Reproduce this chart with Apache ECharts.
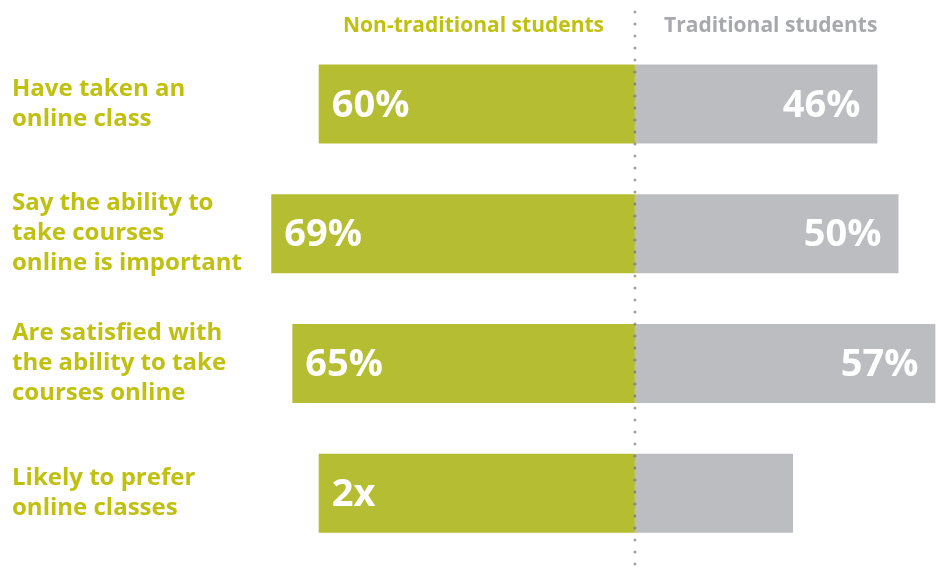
<!DOCTYPE html>
<html>
<head>
<meta charset="utf-8">
<script src="https://cdn.jsdelivr.net/npm/echarts@6/dist/echarts.min.js"></script>
<style>
html,body{margin:0;padding:0;background:#fff;}
#main{width:938px;height:574px;}
</style>
</head>
<body>
<div id="main"></div>
<script>
var categories = [
  'Have taken an\nonline class',
  'Say the ability to\ntake courses\nonline is important',
  'Are satisfied with\nthe ability to take\ncourses online',
  'Likely to prefer\nonline classes'
];
var seriesNames = ['Non-traditional students', 'Traditional students'];
var nonTraditional = [60, 69, 65, 60];
var traditional = [46, 50, 57, 30];
var nonTraditionalLabels = ['60%', '69%', '65%', '2x'];
var traditionalLabels = ['46%', '50%', '57%', ''];

var GREEN = '#b5be32';
var GREY = '#bcbdc0';
var TEXT_GREEN = '#c0c010';
var TEXT_GREY = '#a8a9ad';
var FONT = '"Open Sans", Lato, sans-serif';

var chart = echarts.init(document.getElementById('main'), null, {renderer: 'canvas'});

var option = {
  animation: false,
  backgroundColor: '#ffffff',
  title: [
    {
      text: seriesNames[0],
      right: 329,
      top: 11,
      textStyle: {color: TEXT_GREEN, fontFamily: FONT, fontWeight: 'bold', fontSize: 21}
    },
    {
      text: seriesNames[1],
      left: 659,
      top: 11,
      textStyle: {color: TEXT_GREY, fontFamily: FONT, fontWeight: 'bold', fontSize: 21}
    }
  ],
  grid: {left: 266, right: 0, top: 39, bottom: 16, containLabel: false},
  xAxis: {
    type: 'value',
    min: -70,
    max: 57.5,
    show: false
  },
  yAxis: {
    type: 'category',
    inverse: true,
    data: categories,
    axisLine: {show: false},
    axisTick: {show: false},
    splitLine: {show: false},
    axisLabel: {
      align: 'left',
      margin: 254,
      color: TEXT_GREEN,
      fontFamily: FONT,
      fontWeight: 'bold',
      fontSize: 24,
      lineHeight: 30
    }
  },
  series: [
    {
      name: seriesNames[0],
      type: 'bar',
      barWidth: 79,
      barGap: '-100%',
      itemStyle: {color: GREEN},
      data: nonTraditional.map(function (v) { return -v; }),
      label: {
        show: true,
        position: 'insideLeft',
        distance: 13,
        offset: [0, 2],
        color: '#ffffff',
        fontFamily: FONT,
        fontWeight: 'bold',
        fontSize: 38,
        formatter: function (p) { return nonTraditionalLabels[p.dataIndex]; }
      }
    },
    {
      name: seriesNames[1],
      type: 'bar',
      barWidth: 79,
      barGap: '-100%',
      itemStyle: {color: GREY},
      data: traditional,
      label: {
        show: true,
        position: 'insideRight',
        distance: 17,
        offset: [0, 2],
        color: '#ffffff',
        fontFamily: FONT,
        fontWeight: 'bold',
        fontSize: 38,
        formatter: function (p) { return traditionalLabels[p.dataIndex]; }
      }
    }
  ]
};
chart.setOption(option);

var cx = chart.convertToPixel({xAxisIndex: 0}, 0);
chart.setOption({
  graphic: [{
    type: 'line',
    z: 100,
    shape: {x1: cx, y1: 12, x2: cx, y2: 574},
    style: {stroke: 'rgba(100,100,100,0.6)', lineWidth: 3, lineDash: [0, 12], lineCap: 'round'}
  }]
});
</script>
</body>
</html>
